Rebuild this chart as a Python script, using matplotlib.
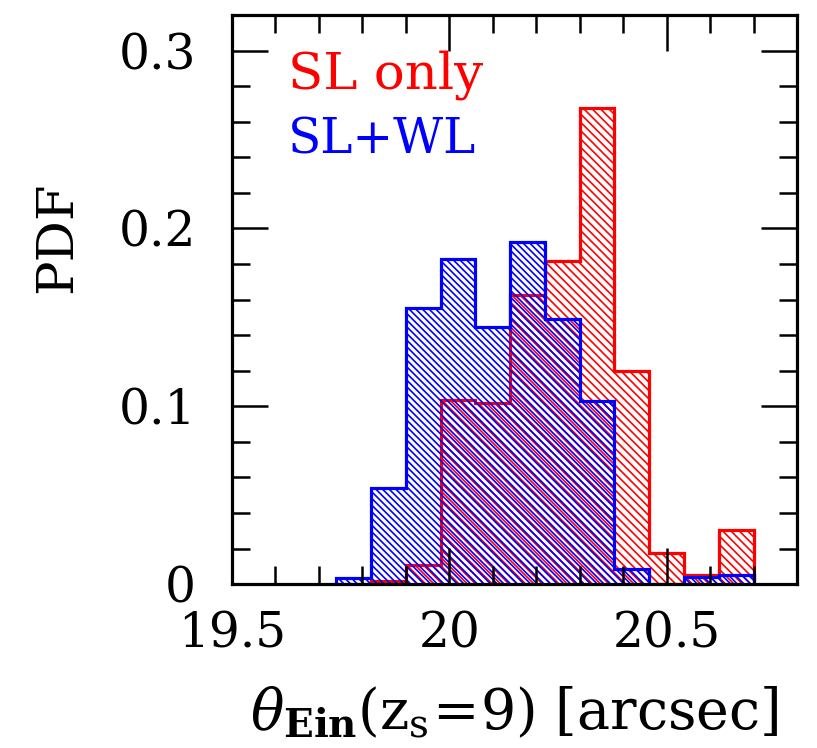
import matplotlib
matplotlib.use('Agg')
import matplotlib.pyplot as plt
from matplotlib.ticker import MultipleLocator

plt.rcParams['font.family'] = ['DejaVu Serif']
plt.rcParams['mathtext.fontset'] = 'dejavuserif'
plt.rcParams['hatch.linewidth'] = 1.2

# bin edges of theta_Ein(z_s=9) [arcsec]
edges = [19.74, 19.82, 19.90, 19.98, 20.06, 20.14, 20.22,
         20.30, 20.38, 20.46, 20.54, 20.62, 20.70]
# PDF per bin
pdf_sl = [0.0, 0.002, 0.011, 0.1037, 0.1019, 0.1627, 0.1818,
          0.2676, 0.1197, 0.0175, 0.0054, 0.0307]
pdf_slwl = [0.0035, 0.0543, 0.155, 0.1826, 0.1446, 0.1923, 0.149,
            0.1028, 0.0088, 0.0, 0.0041, 0.0054]

xticks = [19.5, 20, 20.5]
xticklabels = ['19.5', '20', '20.5']
yticks = [0, 0.1, 0.2, 0.3]
yticklabels = ['0', '0.1', '0.2', '0.3']

fig = plt.figure(figsize=(8.17, 7.48), dpi=100)
ax = fig.add_axes([0.284, 0.219, 0.6915, 0.761])

ax.stairs(pdf_sl, edges, fill=True, facecolor='none', edgecolor='red',
          hatch='\\\\\\\\', linewidth=2.3)
ax.stairs(pdf_slwl, edges, fill=True, facecolor='none', edgecolor='blue',
          hatch='\\\\\\\\\\', linewidth=2.3)

ax.set_xlim(19.5, 20.8)
ax.set_ylim(0, 0.32)
ax.set_xticks(xticks)
ax.set_xticklabels(xticklabels)
ax.set_yticks(yticks)
ax.set_yticklabels(yticklabels)
ax.xaxis.set_minor_locator(MultipleLocator(0.1))
ax.yaxis.set_minor_locator(MultipleLocator(0.02))

ax.tick_params(which='both', direction='in', top=True, right=True, width=1.8)
ax.tick_params(which='major', length=26)
ax.tick_params(which='minor', length=13)
ax.tick_params(axis='x', labelsize=35, pad=19)
ax.tick_params(axis='y', labelsize=35, pad=26)
for s in ax.spines.values():
    s.set_linewidth(2.3)

ax.text(0.099, 0.894, 'SL only', color='red', fontsize=37,
        transform=ax.transAxes, va='center', ha='left')
ax.text(0.099, 0.78, 'SL+WL', color='blue', fontsize=35,
        transform=ax.transAxes, va='center', ha='left')

ax.set_ylabel('PDF', fontsize=37)
ax.yaxis.set_label_coords(-0.265, 0.61)
ax.set_xlabel(r'$\theta_{\mathbf{Ein}}(\mathrm{z_s\!=\!9})$ [arcsec]',
              fontsize=40, labelpad=20)

fig.savefig('out.png', dpi=100)
